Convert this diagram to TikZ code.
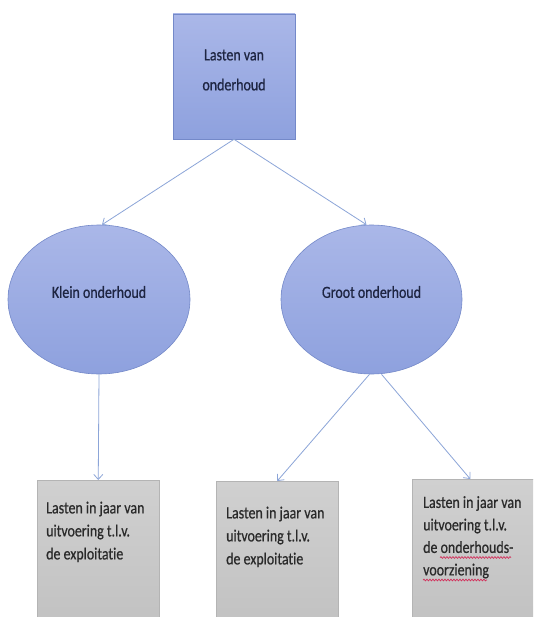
\documentclass[tikz,border=0pt]{standalone}
\usepackage{fontspec}
\setmainfont{Carlito}
\newfontfamily\cf[FakeStretch=0.82,FakeBold=0.6,Ligatures=NoCommon]{Carlito}
\usetikzlibrary{shapes.geometric,arrows.meta,decorations.pathmorphing,calc}
\definecolor{bluetop}{HTML}{AAB7E8}
\definecolor{bluebot}{HTML}{8EA1DE}
\definecolor{blueline}{HTML}{7489C9}
\definecolor{graytop}{HTML}{D0D0D0}
\definecolor{graybot}{HTML}{C2C2C2}
\definecolor{grayline}{HTML}{B4B4B4}
\definecolor{arrowc}{HTML}{8CA5D8}
\definecolor{navytext}{HTML}{1E2542}
\definecolor{darktext}{HTML}{2A2A2A}
\definecolor{wavered}{HTML}{D2325C}
\tikzset{
  fnt/.style={font=\cf\fontsize{17}{23}\selectfont},
  topbox/.style={draw=blueline, line width=0.6pt, top color=bluetop, bottom color=bluebot,
    minimum width=122pt, minimum height=125pt, inner sep=0pt},
  oval/.style={ellipse, draw=blueline, line width=0.6pt, top color=bluetop, bottom color=bluebot,
    inner sep=0pt},
  graybox/.style={draw=grayline, line width=0.5pt, top color=graytop, bottom color=graybot,
    minimum width=122pt, minimum height=141pt, inner sep=0pt, anchor=north west},
  toptext/.style={text=navytext, align=center, font=\cf\fontsize{17}{30}\selectfont},
  ovaltext/.style={fnt, text=navytext},
  boxtext/.style={fnt, text=darktext, align=left, anchor=north west, inner sep=0pt},
  conn/.style={draw=arrowc, line width=0.8pt, -{Straight Barb[length=5pt,width=9pt]}},
  spell/.style={draw=wavered, line width=0.7pt, decorate,
    decoration={snake, amplitude=0.9pt, segment length=3pt}}
}
\begin{document}
\begin{tikzpicture}[x=1pt,y=-1pt]
\useasboundingbox (0,0) rectangle (533,617);
\clip (0,0) rectangle (533,617);
\fill[white] (0,0) rectangle (533,617);

\node[topbox] (top) at (234,76.5) {};
\node[toptext] (toptxt) at (234,70) {Lasten van\\onderhoud};

\node[oval, minimum width=182pt, minimum height=149pt] (klein) at (99,299.5) {};
\node[ovaltext] (kleintxt) at (99,292) {Klein onderhoud};
\node[oval, minimum width=181pt, minimum height=149pt] (groot) at (371.5,299.5) {};
\node[ovaltext] (groottxt) at (371.5,292) {Groot onderhoud};

\node[graybox] (lb) at (37,480) {};
\node[graybox] (mb) at (216,481) {};
\node[graybox] (rb) at (412,479) {};

\node[boxtext] (lbt) at (46,501.5) {Lasten in jaar van\\uitvoering t.l.v.\\de exploitatie};
\node[boxtext] (mbt) at (226,506.5) {Lasten in jaar van\\uitvoering t.l.v.\\de exploitatie};
\node[boxtext, font=\cf\fontsize{17}{22.5}\selectfont] (rbt) at (423,496) {Lasten in jaar van\\uitvoering t.l.v.\\de onderhouds-\\voorziening};

\draw[spell] ($(rbt.south west)+(17,-21)$) -- ($(rbt.south west)+(88,-21)$);
\draw[spell] ($(rbt.south west)+(0,1.5)$) -- ($(rbt.south west)+(64,1.5)$);

\draw[conn] (top.south) -- ([xshift=3pt]klein.north);
\draw[conn] (top.south) -- ([xshift=-5pt]groot.north);
\draw[conn] (klein.south) -- (lb.north);
\draw[conn] ([xshift=-2pt]groot.south) -- (mb.north);
\draw[conn] ([xshift=10pt]groot.south) -- ([xshift=-3pt]rb.north);
\end{tikzpicture}
\end{document}
